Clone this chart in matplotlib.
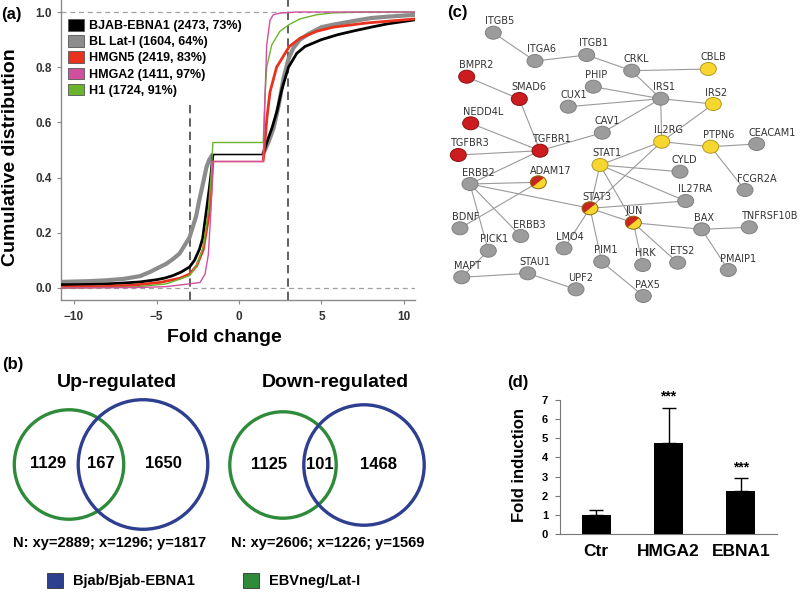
import matplotlib
matplotlib.use('Agg')
import matplotlib.pyplot as plt
from matplotlib.patches import Ellipse, Polygon, Rectangle, Circle, Patch
import numpy as np

plt.rcParams['font.family'] = ['Liberation Sans', 'DejaVu Sans']

# ---------------- Panel (a) data: cumulative distributions ----------------
series_names = ['BJAB-EBNA1 (2473, 73%)', 'BL Lat-I (1604, 64%)', 'HMGN5 (2419, 83%)',
                'HMGA2 (1411, 97%)', 'H1 (1724, 91%)']
series_colors = ['#000000', '#8c8c8c', '#e8321e', '#d050a0', '#6ab42d']
series_lw = [2.0, 3.0, 2.0, 1.0, 1.0]

black_left_x = [-10.8, -9, -8, -7, -6, -5, -4.5, -4, -3.5, -3, -2.7, -2.4, -2.2, -2.0, -1.8, -1.7, -1.58]
black_left_y = [0.012, 0.013, 0.015, 0.018, 0.022, 0.03, 0.036, 0.045, 0.058, 0.076, 0.1, 0.14, 0.18, 0.27, 0.36, 0.41, 0.485]
black_right_x = [1.47, 1.7, 2.0, 2.3, 2.6, 3.0, 3.5, 4.0, 5.0, 6.0, 7.0, 8.0, 9.0, 10.7]
black_right_y = [0.485, 0.53, 0.58, 0.64, 0.72, 0.80, 0.85, 0.875, 0.9, 0.918, 0.932, 0.945, 0.957, 0.972]

gray_left_x = [-10.8, -9, -8, -7, -6, -5.4, -5, -4.4, -4, -3.6, -3.0, -2.6, -2.4, -2.16, -1.96, -1.8, -1.66, -1.58]
gray_left_y = [0.022, 0.025, 0.028, 0.033, 0.043, 0.058, 0.07, 0.088, 0.105, 0.125, 0.183, 0.26, 0.32, 0.385, 0.44, 0.465, 0.478, 0.486]
gray_right_x = [1.47, 1.8, 2.1, 2.4, 2.7, 3.0, 3.3, 3.7, 4.2, 5.0, 5.7, 7.0, 8.0, 9.0, 10.7]
gray_right_y = [0.486, 0.53, 0.58, 0.66, 0.76, 0.83, 0.87, 0.9, 0.92, 0.945, 0.954, 0.968, 0.978, 0.983, 0.99]

red_left_x = [-10.8, -8.4, -6.4, -4.8, -3.6, -3.0, -2.57, -2.16, -1.86, -1.7, -1.58]
red_left_y = [0.003, 0.005, 0.01, 0.02, 0.035, 0.05, 0.08, 0.14, 0.25, 0.34, 0.461]
red_right_x = [1.47, 1.6, 1.7, 1.88, 2.28, 3.05, 3.7, 4.7, 5.7, 7.7, 10.7]
red_right_y = [0.461, 0.55, 0.62, 0.71, 0.8, 0.875, 0.905, 0.93, 0.945, 0.96, 0.975]

mag_left_x = [-10.8, -6.0, -4.4, -3.0, -2.36, -2.06, -1.86, -1.7, -1.58]
mag_left_y = [0.0, 0.002, 0.005, 0.015, 0.02, 0.05, 0.12, 0.28, 0.461]
mag_right_x = [1.47, 1.58, 1.68, 1.88, 2.08, 2.48, 3.5, 10.7]
mag_right_y = [0.461, 0.7, 0.88, 0.97, 0.99, 0.996, 1.0, 1.0]

green_left_x = [-10.8, -6.4, -4.4, -3.0, -2.57, -2.16, -1.86, -1.7, -1.58]
green_left_y = [0.0, 0.003, 0.015, 0.045, 0.08, 0.15, 0.28, 0.4, 0.529]
green_right_x = [1.47, 1.58, 1.68, 1.98, 2.48, 3.05, 3.7, 4.7, 5.7, 7.7, 10.7]
green_right_y = [0.529, 0.7, 0.8, 0.88, 0.93, 0.955, 0.975, 0.99, 0.997, 1.0, 1.0]

xticks_a = [-10, -5, 0, 5, 10]
yticks_a = [0.0, 0.2, 0.4, 0.6, 0.8, 1.0]
fc_threshold = 3

# ---------------- Panel (b) data: Venn ----------------
venn_titles = ['Up-regulated', 'Down-regulated']
venn_x_only = [1129, 1125]
venn_both = [167, 101]
venn_y_only = [1650, 1468]
venn_N = ['N: xy=2889; x=1296; y=1817', 'N: xy=2606; x=1226; y=1569']
venn_legend = ['Bjab/Bjab-EBNA1', 'EBVneg/Lat-I']
venn_blue = '#2e3f8f'
venn_green = '#2e8b3a'

# ---------------- Panel (c) data: network ----------------
node_names = ['ITGB5', 'ITGA6', 'ITGB1', 'CRKL', 'CBLB', 'BMPR2', 'PHIP', 'SMAD6', 'IRS1', 'IRS2',
              'CUX1', 'NEDD4L', 'CAV1', 'TGFBR1', 'IL2RG', 'PTPN6', 'CEACAM1', 'TGFBR3', 'STAT1', 'CYLD',
              'ERBB2', 'ADAM17', 'FCGR2A', 'IL27RA', 'STAT3', 'JUN', 'BAX', 'TNFRSF10B', 'BDNF', 'ERBB3',
              'PICK1', 'LMO4', 'PIM1', 'HRK', 'ETS2', 'PMAIP1', 'MAPT', 'STAU1', 'UPF2', 'PAX5']
node_x = [73.3, 115, 166.7, 211.7, 288.3, 46.7, 173.3, 99.3, 240.7, 293.3,
          148.3, 50.7, 182.3, 120, 241.7, 290.7, 336.7, 38.3, 180, 260,
          50, 118.3, 325, 265.7, 170, 213.3, 281.7, 329.3, 40, 100.7,
          68.3, 144, 181.7, 222.7, 257.7, 308.3, 41.7, 107.7, 156, 223.3]
node_y = [32.7, 61, 55, 70.7, 69, 76.7, 86.7, 99, 98.7, 104,
          106.7, 123.3, 132.7, 150.7, 141.7, 146.7, 144, 155, 165, 171.7,
          184, 182.3, 190, 201, 208.3, 222.7, 229.3, 227.3, 228.3, 236,
          250.7, 248.3, 261.7, 265, 262.7, 270, 277.3, 273.3, 289.3, 296]
node_type = ['g', 'g', 'g', 'g', 'y', 'r', 'g', 'r', 'g', 'y',
             'g', 'r', 'g', 'r', 'y', 'y', 'g', 'r', 'y', 'g',
             'g', 'h', 'g', 'g', 'h', 'h', 'g', 'g', 'g', 'g',
             'g', 'g', 'g', 'g', 'g', 'g', 'g', 'g', 'g', 'g']
edges = [('ITGB5', 'ITGA6'), ('ITGA6', 'ITGB1'), ('ITGB1', 'CRKL'), ('CRKL', 'CBLB'), ('CRKL', 'IRS1'),
         ('PHIP', 'IRS1'), ('CUX1', 'IRS1'), ('IRS1', 'IRS2'), ('IRS1', 'IL2RG'), ('IRS1', 'CAV1'),
         ('CAV1', 'TGFBR1'), ('IRS2', 'IL2RG'), ('BMPR2', 'SMAD6'), ('SMAD6', 'TGFBR1'),
         ('NEDD4L', 'TGFBR1'), ('TGFBR3', 'TGFBR1'), ('TGFBR1', 'ERBB2'), ('IL2RG', 'PTPN6'),
         ('PTPN6', 'CEACAM1'), ('PTPN6', 'FCGR2A'), ('IL2RG', 'STAT1'), ('IL2RG', 'STAT3'),
         ('STAT1', 'CYLD'), ('STAT1', 'IL27RA'), ('STAT1', 'STAT3'), ('STAT1', 'JUN'),
         ('ERBB2', 'ADAM17'), ('ERBB2', 'STAT3'), ('ERBB2', 'ERBB3'), ('ERBB2', 'PICK1'),
         ('ADAM17', 'BDNF'), ('STAT3', 'IL27RA'), ('STAT3', 'JUN'), ('STAT3', 'LMO4'), ('STAT3', 'PIM1'),
         ('JUN', 'BAX'), ('JUN', 'HRK'), ('JUN', 'ETS2'), ('BAX', 'TNFRSF10B'), ('BAX', 'PMAIP1'),
         ('PICK1', 'MAPT'), ('MAPT', 'STAU1'), ('STAU1', 'UPF2'), ('PIM1', 'PAX5')]

# ---------------- Panel (d) data: bars ----------------
bar_cats = ['Ctr', 'HMGA2', 'EBNA1']
bar_vals = [1.0, 4.73, 2.27]
bar_err = [0.24, 1.83, 0.63]
bar_sig = ['', '***', '***']

# =========================================================================
W, H = 800, 592
fig = plt.figure(figsize=(8, 5.92), dpi=100)


def rect(l, t, r, b):
    return [l / W, 1 - b / H, (r - l) / W, (b - t) / H]


# ---------------- Panel (a) ----------------
ax = fig.add_axes(rect(61, 0, 415, 300))
ax.set_xlim(-10.79, 10.67)
ax.set_ylim(-0.0435, 1.0435)
for s in ['top', 'right']:
    ax.spines[s].set_visible(False)
for s in ['left', 'bottom']:
    ax.spines[s].set_color('#8a8a8a')
    ax.spines[s].set_linewidth(1.0)
ax.set_xticks(xticks_a)
ax.set_yticks(yticks_a)
ax.set_yticklabels(['%.1f' % v for v in yticks_a])
ax.tick_params(axis='both', colors='#8a8a8a', labelcolor='#333333', labelsize=8.5, length=3)
ax.tick_params(axis='x', pad=5)
for lab in ax.get_xticklabels() + ax.get_yticklabels():
    lab.set_fontweight('bold')

ax.axhline(0, color='#a0a0a0', lw=0.9, ls=(0, (4, 3)), zorder=1)
ax.axhline(1, color='#a0a0a0', lw=0.9, ls=(0, (4, 3)), zorder=1)
ax.axvline(fc_threshold, color='#444444', lw=1.2, ls=(0, (5, 3)), zorder=1)
ax.plot([-fc_threshold, -fc_threshold], [-0.0435, 0.663], color='#444444', lw=1.2,
        ls=(0, (5, 3)), zorder=1)

lefts_x = [black_left_x, gray_left_x, red_left_x, mag_left_x, green_left_x]
lefts_y = [black_left_y, gray_left_y, red_left_y, mag_left_y, green_left_y]
rights_x = [black_right_x, gray_right_x, red_right_x, mag_right_x, green_right_x]
rights_y = [black_right_y, gray_right_y, red_right_y, mag_right_y, green_right_y]
order = [1, 0, 2, 4, 3]
for k, i in enumerate(order):
    c = series_colors[i]
    ax.plot([lefts_x[i][-1], rights_x[i][0]], [lefts_y[i][-1], rights_y[i][0]], color=c, lw=1.0,
            zorder=2 + k)
    ax.plot(lefts_x[i], lefts_y[i], color=c, lw=series_lw[i], zorder=2 + k, solid_capstyle='butt')
    ax.plot(rights_x[i], rights_y[i], color=c, lw=series_lw[i], zorder=2 + k, solid_capstyle='butt')

handles = [Patch(facecolor=c, edgecolor='#555555', linewidth=0.6) for c in series_colors]
leg = ax.legend(handles, series_names, loc='upper left', bbox_to_anchor=(7 / 354, 1 - 19 / 300),
                frameon=False, borderpad=0, borderaxespad=0, handlelength=1.3, handleheight=1.05,
                handletextpad=0.35, labelspacing=0.25, prop={'size': 9, 'weight': 'bold'})

fig.text(11 / W, 1 - 157 / H, 'Cumulative distribution', rotation=90, ha='center', va='center',
         fontsize=14, fontweight='bold')
fig.text(224 / W, 1 - 337 / H, 'Fold change', ha='center', va='center', fontsize=14, fontweight='bold')
fig.text(1 / W, 1 - 14 / H, '(a)', ha='left', va='center', fontsize=12, fontweight='bold')

# ---------------- Panel (b) ----------------
axb = fig.add_axes(rect(0, 340, 440, 592))
axb.set_xlim(0, 440)
axb.set_ylim(592, 340)
axb.axis('off')
fig.text(2 / W, 1 - 365 / H, '(b)', ha='left', va='center', fontsize=12, fontweight='bold')

venn_green_cx = [69, 283]
venn_gap = [74, 81]
venn_cy = [464.5, 465]
venn_title_x = [117, 335]
venn_N_x = [110, 328]
scale = 1.52
for v in range(2):
    nx = venn_x_only[v] + venn_both[v]
    ny = venn_y_only[v] + venn_both[v]
    rg = scale * np.sqrt(nx)
    rb = scale * np.sqrt(ny)
    gx = venn_green_cx[v]
    bx = gx + venn_gap[v]
    cy = venn_cy[v]
    axb.add_patch(Circle((gx, cy), rg, fill=False, ec=venn_green, lw=2.4))
    axb.add_patch(Circle((bx, cy), rb, fill=False, ec=venn_blue, lw=2.4))
    gl, gr, bl, br = gx - rg, gx + rg, bx - rb, bx + rb
    axb.text((gl + bl) / 2 + 2, cy - 1, str(venn_x_only[v]), ha='center', va='center', fontsize=12,
             fontweight='bold')
    axb.text((bl + gr) / 2, cy - 1, str(venn_both[v]), ha='center', va='center', fontsize=12,
             fontweight='bold')
    axb.text((gr + br) / 2 - 2, cy - 1, str(venn_y_only[v]), ha='center', va='center', fontsize=12,
             fontweight='bold')
    axb.text(venn_title_x[v], 382, venn_titles[v], ha='center', va='center', fontsize=14,
             fontweight='bold')
    axb.text(venn_N_x[v], 543, venn_N[v], ha='center', va='center', fontsize=10.5, fontweight='bold')

leg_x = [47, 243]
leg_cols = [venn_blue, venn_green]
for i in range(2):
    axb.add_patch(Rectangle((leg_x[i], 573), 16, 15, fc=leg_cols[i], ec='#333333', lw=0.6))
    axb.text(leg_x[i] + 26, 581, venn_legend[i], ha='left', va='center', fontsize=10.5,
             fontweight='bold')

# ---------------- Panel (c) ----------------
axc = fig.add_axes(rect(420, 0, 800, 320))
axc.set_xlim(0, 380)
axc.set_ylim(320, 0)
axc.axis('off')
fig.text(447 / W, 1 - 13 / H, '(c)', ha='left', va='center', fontsize=12, fontweight='bold')

pos = {n: (x, y) for n, x, y in zip(node_names, node_x, node_y)}
for a, b in edges:
    axc.plot([pos[a][0], pos[b][0]], [pos[a][1], pos[b][1]], color='#9a9a9a', lw=0.8, zorder=1)

fills = {'g': '#9c9c9c', 'r': '#cc1c1f', 'y': '#f8d630'}
edgec = {'g': '#808080', 'r': '#8a1010', 'y': '#b09a20'}
ew, eh = 16.0, 13.0
for n, x, y, t in zip(node_names, node_x, node_y, node_type):
    if t == 'h':
        axc.add_patch(Ellipse((x, y), ew, eh, fc=fills['y'], ec='none', zorder=3))
        th = np.radians(np.linspace(45, 225, 40))
        pts = np.column_stack([x + ew / 2 * np.cos(th), y - eh / 2 * np.sin(th)])
        axc.add_patch(Polygon(pts, closed=True, fc='#c8261c', ec='none', zorder=4))
        axc.add_patch(Ellipse((x, y), ew, eh, fill=False, ec='#8a6a10', lw=0.7, zorder=5))
    else:
        axc.add_patch(Ellipse((x, y), ew, eh, fc=fills[t], ec=edgec[t], lw=0.7, zorder=3))
    axc.text(x - ew / 2, y - eh / 2 - 2, n, ha='left', va='baseline', fontsize=7,
             family='DejaVu Sans', color='#333333', zorder=6)

# ---------------- Panel (d) ----------------
axd = fig.add_axes(rect(560, 400, 777, 534))
xpos = np.arange(len(bar_cats))
axd.bar(xpos, bar_vals, width=0.4, color='black', zorder=2)
axd.errorbar(xpos, bar_vals, yerr=[[0] * 3, bar_err], fmt='none', ecolor='black', elinewidth=1.0,
             capsize=5, capthick=1.0, zorder=3)
for i in range(len(bar_cats)):
    if bar_sig[i]:
        axd.text(xpos[i], bar_vals[i] + bar_err[i] + 0.6, bar_sig[i], ha='center', va='center',
                 fontsize=10, fontweight='bold', clip_on=False)
axd.set_xlim(-0.5, 2.5)
axd.set_ylim(0, 7)
axd.set_yticks(range(0, 8))
axd.set_xticks(xpos)
axd.set_xticklabels(bar_cats)
for s in ['top', 'right']:
    axd.spines[s].set_visible(False)
for s in ['left', 'bottom']:
    axd.spines[s].set_color('#777777')
axd.tick_params(axis='y', length=3.6, color='#777777', labelsize=8, pad=5)
axd.tick_params(axis='x', length=0, labelsize=12.5, pad=7)
for lab in axd.get_xticklabels() + axd.get_yticklabels():
    lab.set_fontweight('bold')
fig.text(507 / W, 1 - 383 / H, '(d)', ha='left', va='center', fontsize=12, fontweight='bold')
fig.text(520 / W, 1 - 465 / H, 'Fold induction', rotation=90, ha='center', va='center', fontsize=12,
         fontweight='bold')

fig.savefig('out.png', dpi=100)
